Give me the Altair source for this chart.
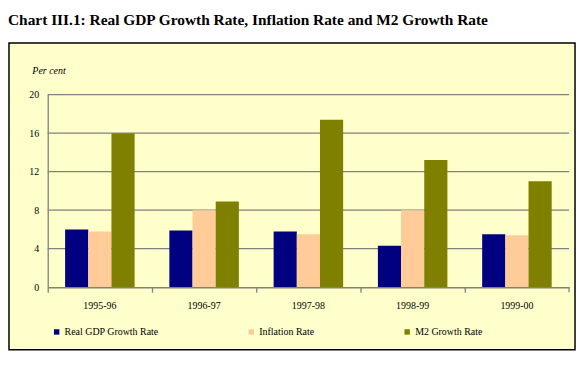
import altair as alt
import pandas as pd

years = ["1995-96", "1996-97", "1997-98", "1998-99", "1999-00"]
series = ["Real GDP Growth Rate", "Inflation Rate", "M2 Growth Rate"]
gdp = [6.0, 5.9, 5.8, 4.3, 5.5]
inflation = [5.8, 8.0, 5.5, 8.0, 5.4]
m2 = [16.0, 8.9, 17.4, 13.2, 11.0]
colors = ["#000080", "#FFCC99", "#808000"]
y_ticks = [0, 4, 8, 12, 16, 20]

rows = []
for i, yr in enumerate(years):
    for s, vals in zip(series, [gdp, inflation, m2]):
        rows.append({"year": yr, "series": s, "value": vals[i]})
df = pd.DataFrame(rows)
grid_df = pd.DataFrame({"v": y_ticks[1:]})

W, H = 525, 194
FONT = "Liberation Serif"

yscale = alt.Scale(domain=[0, 20], nice=False)
yaxis = alt.Axis(values=y_ticks, title="Per cent", titleAngle=0, titleX=-16,
                 titleY=-24, titleAlign="left", titleBaseline="middle",
                 titleFont=FONT, titleFontSize=10, titleFontStyle="italic",
                 titleFontWeight="normal", titleColor="black",
                 labelFont=FONT, labelFontSize=10, labelColor="black",
                 labelPadding=9, ticks=False, grid=False,
                 domainColor="#808080", domainWidth=1.3, zindex=1)

box = alt.Chart(pd.DataFrame({"a": [0]})).mark_rect(
    fill="#FFFFCC", stroke="black", strokeWidth=1.5, clip=False
).encode(
    x=alt.value(-39), x2=alt.value(531), y=alt.value(-52), y2=alt.value(257)
)

grid = alt.Chart(grid_df).mark_rule(color="#808080", strokeWidth=1.3).encode(
    y=alt.Y("v:Q", scale=yscale, axis=yaxis, title="Per cent"),
    x=alt.value(0), x2=alt.value(W),
)

bars = alt.Chart(df).mark_bar().encode(
    x=alt.X("year:N", sort=years,
            scale=alt.Scale(paddingInner=0, paddingOuter=0),
            axis=alt.Axis(title=None, labelAngle=0, labelFont=FONT, labelFontSize=10,
                          labelColor="black", domainColor="#808080", domainWidth=1.3,
                          tickColor="#808080", tickWidth=1.3, tickSize=5, bandPosition=0,
                          labelPadding=8, grid=False, zindex=1)),
    xOffset=alt.XOffset("series:N", sort=series,
                        scale=alt.Scale(paddingInner=0, paddingOuter=0.75)),
    y=alt.Y("value:Q", scale=yscale, axis=yaxis, title="Per cent"),
    color=alt.Color("series:N", sort=series,
                    scale=alt.Scale(domain=series, range=colors),
                    legend=alt.Legend(orient="none", legendX=4, legendY=234,
                                      direction="horizontal", title=None,
                                      symbolType="square", symbolSize=30,
                                      symbolStrokeWidth=0, labelFont=FONT,
                                      labelFontSize=10, labelColor="black",
                                      columnPadding=88, labelOffset=3)),
)

endtick = alt.Chart(pd.DataFrame({"a": [0]})).mark_rule(
    color="#808080", strokeWidth=1.3
).encode(x=alt.value(W), y=alt.value(H), y2=alt.value(H + 5))

chart = alt.layer(box, grid, bars, endtick).properties(
    width=W, height=H,
    title=alt.TitleParams(
        text="Chart III.1: Real GDP Growth Rate, Inflation Rate and M2 Growth Rate",
        anchor="start", frame="group", dx=-40, font=FONT, fontSize=15.5,
        fontWeight="bold", color="black", offset=14),
    autosize=alt.AutoSizeParams(type="none"),
    padding={"left": 40, "top": 86, "right": 8, "bottom": 66},
).configure_view(stroke=None).configure(background="white", font=FONT)

chart.save("out.html", embed_options={"renderer": "svg", "actions": False})
